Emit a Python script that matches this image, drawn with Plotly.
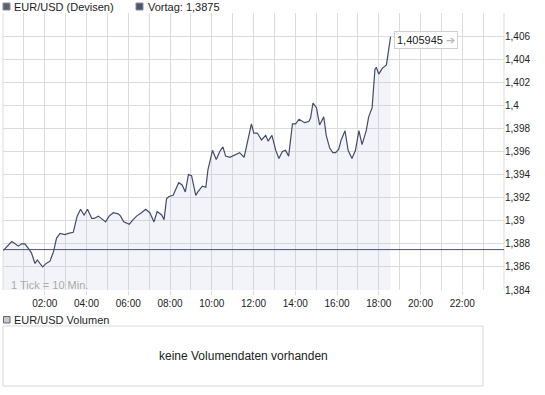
import plotly.graph_objects as go

# ---- data ----
minutes = [0, 11, 25, 35, 44, 54, 63, 76, 82, 92, 99, 106, 114, 124, 135, 145, 154, 164, 178, 188,
           202, 213, 223, 233, 243, 255, 262, 274, 283, 295, 305, 317, 331, 338, 347, 363, 374, 384,
           398, 410, 422, 434, 443, 456, 463, 470, 477, 489, 505, 515, 524, 533, 542, 554, 560, 573,
           583, 589, 596, 602, 613, 623, 632, 640, 652, 666, 680, 693, 700, 707, 714, 721, 731, 743,
           755, 762, 773, 784, 793, 803, 812, 821, 832, 841, 851, 867, 879, 884, 891, 901, 910, 922,
           929, 939, 948, 956, 965, 972, 983, 992, 1003, 1013, 1023, 1032, 1044, 1051, 1061, 1069,
           1073, 1080, 1090, 1102, 1110, 1114]
prices = [1.3874, 1.38775, 1.3882, 1.3880, 1.3878, 1.3880, 1.3880, 1.38747, 1.3872, 1.3863, 1.3866,
          1.3863, 1.3860, 1.3863, 1.3865, 1.3873, 1.3885, 1.3889, 1.3888, 1.3889,
          1.3890, 1.3904, 1.3910, 1.3905, 1.3910, 1.3902, 1.3902, 1.3904, 1.3902, 1.3899, 1.3904,
          1.3907, 1.3906, 1.3904, 1.3899, 1.3897, 1.3901, 1.3904,
          1.3907, 1.3910, 1.3907, 1.3899, 1.3908, 1.3905, 1.3901, 1.3919, 1.3921, 1.3922, 1.3933,
          1.3931, 1.3925, 1.3940, 1.3939, 1.3922, 1.3925, 1.3930,
          1.3929, 1.3944, 1.3953, 1.3961, 1.3953, 1.3960, 1.3964, 1.3956, 1.3955, 1.3957, 1.3959,
          1.3955, 1.3965, 1.3976, 1.3984, 1.3976, 1.3976, 1.3970,
          1.3974, 1.3969, 1.3974, 1.3961, 1.3954, 1.3960, 1.3961, 1.3956, 1.3984, 1.3984, 1.3988,
          1.3985, 1.3986, 1.3989, 1.4002, 1.3998, 1.3983, 1.3990,
          1.3974, 1.3963, 1.3959, 1.3959, 1.3962, 1.3970, 1.3978, 1.3961, 1.3954, 1.3961, 1.3978,
          1.3966, 1.3978, 1.3990, 1.3998, 1.4031,
          1.4033, 1.4027, 1.4032, 1.4035, 1.4051, 1.405945]
prev_close = 1.3875
last_label = "1,405945"
x_tickvals = [2, 4, 6, 8, 10, 12, 14, 16, 18, 20, 22]
x_ticktext = ["02:00", "04:00", "06:00", "08:00", "10:00", "12:00", "14:00", "16:00", "18:00",
              "20:00", "22:00"]
y_tickvals = [1.384, 1.386, 1.388, 1.390, 1.392, 1.394, 1.396, 1.398, 1.400, 1.402, 1.404, 1.406]
y_ticktext = ["1,384", "1,386", "1,388", "1,39", "1,392", "1,394", "1,396", "1,398", "1,4",
              "1,402", "1,404", "1,406"]

hours = [m / 60 for m in minutes]

W, H = 545, 395
ML, MR, MT, MB = 3, 41, 13, 9
PW, PH = W - ML - MR, H - MT - MB


def px(x):
    return (x - ML) / PW


def py(y):
    return (H - MB - y) / PH


FONT = "Liberation Sans, Arial, sans-serif"
GRID = "#dcdcdc"
LINE = "#434c68"

fig = go.Figure()
fig.add_trace(go.Scatter(
    x=hours, y=prices, mode="lines",
    line=dict(color=LINE, width=1.2),
    fill="tozeroy", fillcolor="rgba(180,185,225,0.16)",
    hoverinfo="skip", showlegend=False,
))

fig.update_layout(
    width=W, height=H,
    margin=dict(l=ML, r=MR, t=MT, b=MB),
    paper_bgcolor="white", plot_bgcolor="white",
    font=dict(family=FONT, size=10, color="#222"),
    showlegend=False,
    xaxis=dict(
        range=[0, 24], tickmode="array", tickvals=x_tickvals, ticktext=x_ticktext,
        showgrid=True, gridcolor=GRID, gridwidth=1,
        ticks="outside", ticklen=4, tickcolor=GRID,
        minor=dict(dtick=1, tick0=0, showgrid=True, gridcolor=GRID, gridwidth=1),
        zeroline=False, showline=False,
        tickfont=dict(family=FONT, size=10, color="#222"),
        fixedrange=True,
    ),
    yaxis=dict(
        range=[1.384, 1.408], side="right", tickmode="array",
        tickvals=y_tickvals, ticktext=y_ticktext,
        showgrid=True, gridcolor=GRID, gridwidth=1,
        zeroline=False, showline=False, ticks="",
        domain=[py(290), 1],
        tickfont=dict(family=FONT, size=10, color="#222"),
        fixedrange=True,
    ),
)

shapes = []
shapes.append(dict(type="line", xref="paper", yref="paper", x0=px(3), x1=px(3), y0=py(290), y1=1,
                   line=dict(color=GRID, width=1)))
shapes.append(dict(type="line", xref="paper", yref="paper", x0=px(504), x1=px(504), y0=py(290), y1=1,
                   line=dict(color=GRID, width=1)))
shapes.append(dict(type="line", xref="paper", yref="y", x0=0, x1=1, y0=prev_close, y1=prev_close,
                   line=dict(color="#4a5478", width=1)))
shapes.append(dict(type="rect", xref="paper", yref="paper", x0=px(3), x1=px(10), y0=py(10), y1=py(3),
                   fillcolor="#5a5f70", line=dict(color="#8a8e9a", width=1)))
shapes.append(dict(type="rect", xref="paper", yref="paper", x0=px(136), x1=px(143), y0=py(10), y1=py(3),
                   fillcolor="#4c5470", line=dict(color="#8a8e9a", width=1)))
shapes.append(dict(type="rect", xref="paper", yref="paper", x0=px(3.5), x1=px(10), y0=py(323), y1=py(316.5),
                   fillcolor="#c8c8c8", line=dict(color="#666", width=1)))
shapes.append(dict(type="rect", xref="paper", yref="paper", x0=px(3), x1=px(483), y0=py(386), y1=py(326),
                   fillcolor="white", line=dict(color="#d8d8d8", width=1)))
fig.update_layout(shapes=shapes)

annotations = [
    dict(text="EUR/USD (Devisen)", x=px(12), y=py(6.5), xref="paper", yref="paper",
         xanchor="left", yanchor="middle", showarrow=False,
         font=dict(family=FONT, size=11, color="#222")),
    dict(text="Vortag: 1,3875", x=px(146), y=py(6.5), xref="paper", yref="paper",
         xanchor="left", yanchor="middle", showarrow=False,
         font=dict(family=FONT, size=11, color="#222")),
    dict(text="EUR/USD Volumen", x=px(12), y=py(319.5), xref="paper", yref="paper",
         xanchor="left", yanchor="middle", showarrow=False,
         font=dict(family=FONT, size=11, color="#222")),
    dict(text="keine Volumendaten vorhanden", x=px(243), y=py(356), xref="paper", yref="paper",
         xanchor="center", yanchor="middle", showarrow=False,
         font=dict(family=FONT, size=12, color="#222")),
    dict(text="1 Tick = 10 Min.", x=px(9), y=py(285), xref="paper", yref="paper",
         xanchor="left", yanchor="middle", showarrow=False,
         font=dict(family=FONT, size=11, color="#aaaaaa")),
    dict(text=last_label + " <span style='color:#bbbbbb'>➔</span>", x=px(394), y=py(40),
         xref="paper", yref="paper", xanchor="left", yanchor="middle", showarrow=False,
         bgcolor="white", bordercolor="#d0d0d0", borderwidth=1, borderpad=2,
         font=dict(family=FONT, size=11, color="#222")),
]
fig.update_layout(annotations=annotations)

fig.write_html("out.html", config={"displayModeBar": False},
               post_script="document.body.style.margin='0';document.body.style.overflow='hidden';")
